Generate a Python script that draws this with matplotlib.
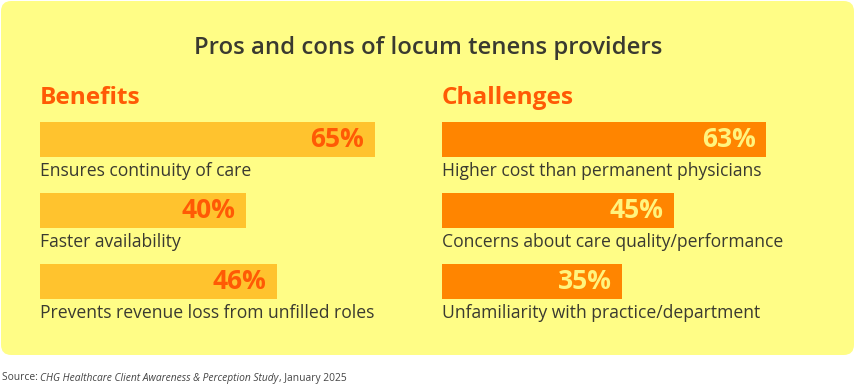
import matplotlib.pyplot as plt
from matplotlib.patches import FancyBboxPatch

plt.rcParams['font.family'] = ['Open Sans', 'DejaVu Sans']

# --- data ---
title = "Pros and cons of locum tenens providers"
benefit_labels = ["Ensures continuity of care",
                  "Faster availability",
                  "Prevents revenue loss from unfilled roles"]
benefit_values = [65, 40, 46]
challenge_labels = ["Higher cost than permanent physicians",
                    "Concerns about care quality/performance",
                    "Unfamiliarity with practice/department"]
challenge_values = [63, 45, 35]

# --- colours ---
panel_bg = "#FFFD86"
dark = "#3A3A30"
orange_txt = "#FF5A05"
benefit_bar = "#FFC32E"
challenge_bar = "#FF8500"
light_txt = "#FFF47E"

W, H = 856, 386
fig = plt.figure(figsize=(W / 100, H / 100), dpi=100)
fig.patch.set_facecolor("white")


def px(x, y):
    # pixel (from top-left) -> figure fraction
    return x / W, 1 - y / H


# yellow rounded panel
panel = FancyBboxPatch((1 / W, 1 - 355 / H), 853 / W, 354 / H,
                       boxstyle="round,pad=0,rounding_size=0.012",
                       transform=fig.transFigure, facecolor=panel_bg,
                       edgecolor="none", mutation_aspect=W / H, zorder=-5)
fig.patches.append(panel)

fig.text(*px(428, 48), title, ha="center", va="center",
         fontsize=17.2, color=dark, fontweight="semibold")


def draw_group(x0, heading, labels, values, bar_col, val_col):
    fig.text(*px(x0, 98), heading, ha="left", va="center",
             fontsize=17.6, fontweight="bold", color=orange_txt)
    # axes: 100% = 515 px, three rows of 71 px starting at y=104
    left, bottom = x0 / W, 1 - 317 / H
    ax = fig.add_axes([left, bottom, 515 / W, 213 / H])
    ax.set_xlim(0, 100)
    ax.set_ylim(2.5, -0.5)
    ax.axis("off")
    ypos = list(range(len(values)))
    ax.barh(ypos, values, height=35 / 71, color=bar_col, left=0)
    for i, (lab, v) in enumerate(zip(labels, values)):
        ax.text(v - 2.1, i, f"{v}%", ha="right", va="center",
                fontsize=19, fontweight="bold", color=val_col)
        ax.text(0, i + 0.45, lab, ha="left", va="center",
                fontsize=12.65, color=dark)


draw_group(40, "Benefits", benefit_labels, benefit_values,
           benefit_bar, orange_txt)
draw_group(442, "Challenges", challenge_labels, challenge_values,
           challenge_bar, light_txt)

# source line with italic study name
src_y = 1 - 378 / H
t1 = fig.text(2 / W, src_y, "Source: ", fontsize=7.4, color="#444444",
              va="center")
fig.canvas.draw()
r = fig.canvas.get_renderer()
bb = t1.get_window_extent(r)
t2 = fig.text(bb.x1 / W, src_y,
              "CHG Healthcare Client Awareness & Perception Study",
              fontsize=7.4, color="#444444", va="center", style="italic")
bb2 = t2.get_window_extent(r)
fig.text(bb2.x1 / W, src_y, ", January 2025", fontsize=7.4,
         color="#444444", va="center")

fig.savefig("out.png", dpi=100, facecolor="white")
